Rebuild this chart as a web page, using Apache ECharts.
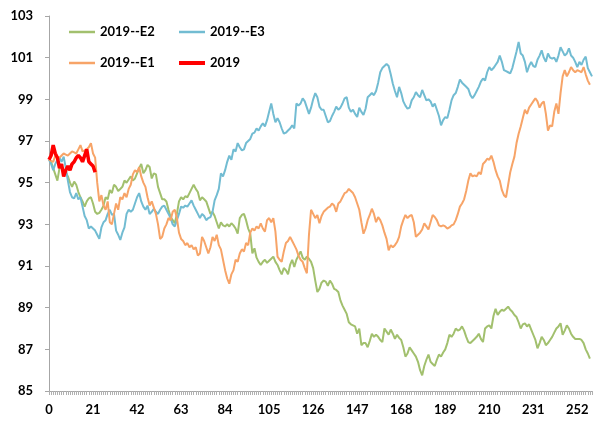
<!DOCTYPE html>
<html>
<head>
<meta charset="utf-8">
<script src="https://cdn.jsdelivr.net/npm/echarts@6/dist/echarts.min.js"></script>
<style>html,body{margin:0;padding:0;background:#fff}#c{width:600px;height:427px}</style>
</head>
<body>
<div id="c"></div>
<script>
// x categories: trading-day index 0..259
const categories = Array.from({length: 260}, (_, i) => String(i));
const seriesNames = ['2019--E2', '2019--E3', '2019--E1', '2019'];

const e2 = [96.1,96.0,95.7,95.4,95.1,95.7,95.8,95.6,95.5,95.3,95.0,94.8,95.05,94.9,94.55,94.3,94.1,93.85,94.1,94.25,
94.3,94.0,93.6,93.5,93.55,93.7,93.9,94.3,94.2,94.65,94.5,94.9,94.8,94.6,94.7,94.8,95.1,95.0,95.15,95.3,
95.1,95.2,95.45,95.7,95.9,95.45,95.6,95.85,95.75,95.2,95.45,95.4,94.8,94.5,94.2,94.2,94.1,93.7,93.35,93.2,
93.05,93.5,94.1,94.3,94.2,94.35,94.3,94.5,94.7,94.9,94.7,94.55,94.15,94.3,94.2,94.1,93.8,93.5,93.6,93.4,
93.1,92.8,93.1,92.95,92.9,93.0,92.9,93.05,92.95,92.8,92.55,93.3,93.45,93.5,93.2,92.8,92.55,91.6,91.85,91.4,
91.2,91.05,91.2,91.3,91.15,91.25,91.35,91.45,91.2,91.05,90.8,90.6,90.9,90.8,90.6,91.05,91.3,90.95,91.3,91.5,
91.7,91.4,91.3,91.45,91.35,91.2,90.9,90.3,89.75,89.9,90.2,90.3,90.25,90.05,90.3,90.15,89.9,89.85,89.75,89.35,
89.1,88.9,88.7,88.3,88.2,88.15,88.1,87.75,88.0,87.2,87.3,87.3,87.1,87.4,87.75,87.6,87.7,87.6,87.45,87.35,
88.0,87.85,87.7,87.95,87.75,87.5,87.7,87.55,87.45,87.1,86.65,86.8,87.1,86.95,86.8,86.65,86.4,86.0,85.75,86.2,
86.5,86.75,86.4,86.3,86.2,86.5,86.75,86.65,86.85,87.0,87.3,87.7,87.6,87.75,88.0,87.9,87.95,88.1,87.9,87.6,
87.35,87.3,87.4,87.5,87.6,87.75,87.5,87.35,88.0,88.1,88.15,88.0,88.6,88.95,88.65,88.8,88.9,88.85,88.95,89.05,
88.9,88.8,88.65,88.55,88.3,88.0,88.2,88.25,88.1,88.2,87.95,87.7,87.45,87.05,87.3,87.6,87.45,87.2,87.3,87.45,
87.6,87.8,88.0,88.1,88.25,87.7,87.9,88.15,88.0,87.75,87.6,87.5,87.5,87.5,87.45,87.3,87.0,86.8,86.55];

const e3 = [96.1,95.9,95.6,95.9,96.1,96.2,96.0,96.25,95.7,95.1,94.55,94.3,94.25,94.5,94.2,94.3,93.85,93.4,93.2,92.8,
92.9,92.8,92.7,92.5,92.3,92.85,93.1,93.2,93.5,93.7,93.45,93.5,92.7,92.5,92.25,92.6,92.85,93.5,93.7,93.6,
93.7,94.0,94.3,94.5,94.1,93.85,93.7,93.9,93.5,93.6,93.75,93.6,93.5,93.7,93.85,93.9,93.7,93.5,93.3,93.0,
92.9,93.2,93.5,93.85,93.8,93.9,93.85,94.0,94.15,93.9,93.7,93.5,93.3,93.5,93.4,93.2,93.3,93.35,93.6,94.15,
94.4,94.7,95.45,95.3,95.6,96.0,96.3,96.1,96.6,96.5,96.9,96.7,96.55,96.6,96.9,97.0,97.1,97.35,97.4,97.6,
97.5,97.7,97.85,97.7,98.0,98.4,98.8,98.3,97.9,98.1,97.9,97.6,97.35,97.4,97.5,97.6,97.75,97.6,98.8,98.7,
98.8,99.05,98.9,98.6,98.3,98.6,99.0,99.3,99.1,98.65,98.5,98.5,98.2,97.9,97.95,98.2,98.4,98.65,98.5,98.6,
98.8,99.05,99.1,98.6,98.4,98.5,98.3,98.15,98.6,98.4,98.25,98.55,99.1,99.2,99.3,99.2,99.4,99.8,100.3,100.5,
100.6,100.7,100.6,100.2,99.75,99.4,99.1,99.6,99.3,98.9,98.7,98.55,98.6,98.95,99.1,99.35,99.2,99.1,99.45,99.2,
98.95,99.0,98.9,98.65,98.8,98.5,98.2,97.75,98.0,98.15,98.1,98.5,98.95,99.2,99.3,99.6,99.95,99.8,99.7,99.6,
99.5,99.2,99.05,99.2,99.4,99.6,99.85,100.0,99.9,100.3,100.55,100.4,100.5,100.65,100.8,101.1,100.8,100.4,100.35,100.3,
100.25,100.5,100.9,101.3,101.75,101.2,101.1,100.8,100.3,100.6,100.8,100.6,100.55,100.9,101.1,101.35,101.0,100.8,101.2,101.0,
100.95,101.0,100.8,101.1,101.5,101.3,101.1,101.2,101.45,101.1,101.0,100.8,100.55,100.8,100.65,100.9,101.05,100.5,100.3,100.1];

const e1 = [96.1,96.05,96.0,96.3,96.25,96.2,96.3,96.4,96.35,96.3,96.4,96.5,96.45,96.4,96.6,96.8,96.5,96.55,96.6,96.7,
96.9,96.4,96.2,95.0,94.1,94.4,93.9,93.7,94.1,93.1,93.0,93.5,94.0,93.7,94.3,94.2,94.5,94.3,94.7,94.9,
95.4,95.6,95.5,95.75,95.3,95.0,94.8,94.3,93.9,94.1,93.8,93.5,93.0,92.3,92.4,92.8,93.0,93.3,93.2,93.6,
93.7,93.3,92.6,92.3,92.2,92.0,92.1,91.9,92.0,91.8,91.9,91.5,91.6,92.4,92.2,91.9,91.6,91.9,92.4,92.2,
92.5,92.0,91.8,91.3,90.8,90.4,90.15,90.6,90.8,91.3,91.2,91.6,91.8,91.7,92.1,92.0,92.6,92.8,92.7,92.9,
92.8,93.05,92.8,92.65,93.2,93.3,93.1,93.3,92.65,91.45,91.3,91.2,91.7,92.1,92.2,92.4,92.2,92.0,91.8,91.5,
91.3,91.2,90.9,90.65,92.5,93.7,93.5,93.3,93.45,93.05,93.4,93.6,93.7,93.8,93.85,94.0,93.9,93.6,94.0,94.1,
94.3,94.5,94.55,94.7,94.6,94.5,94.3,94.0,93.7,93.1,92.55,92.8,93.2,93.45,93.75,93.5,93.1,93.35,93.2,92.95,
92.6,92.3,91.75,92.0,91.9,92.0,92.15,92.4,92.9,93.2,93.45,93.3,93.4,93.45,93.1,92.4,92.5,92.6,92.75,93.05,
92.9,92.75,93.1,93.45,93.35,93.2,92.95,92.9,92.95,92.9,92.8,92.85,92.95,93.0,93.2,93.5,93.85,94.0,94.2,94.6,
95.1,95.45,95.3,95.35,95.3,95.5,95.4,95.9,96.0,96.15,96.1,96.3,96.0,95.6,95.3,95.1,94.65,94.4,94.3,94.9,
95.5,95.9,96.25,96.9,97.35,97.7,98.1,98.5,98.3,98.6,98.75,98.9,99.05,98.9,98.6,98.8,98.9,98.3,97.5,97.75,
97.7,98.4,98.8,98.3,99.3,100.1,100.4,100.1,100.3,100.55,100.4,100.3,100.4,100.35,100.3,100.55,100.2,99.9,99.7];

const y2019 = [96.1,96.3,96.8,96.4,96.2,95.7,95.9,95.3,95.6,95.8,95.6,95.9,96.0,96.2,96.3,96.2,96.0,96.3,96.6,96.0,
95.9,95.8,95.5];

const colors = {'2019--E2': '#A2C06E', '2019--E3': '#72BCD2', '2019--E1': '#F7A468', '2019': '#FF0000'};
const FONT = 'Lato';

const chart = echarts.init(document.getElementById('c'), null, {renderer: 'canvas'});
function mkSeries(name, data, width, z) {
  return {name, type: 'line', data, symbol: 'none', showSymbol: false, smooth: false, z,
    lineStyle: {color: colors[name], width}, itemStyle: {color: colors[name]}, animation: false};
}
function mkLegend(name, left, top, h) {
  return {data: [name], left, top, padding: 0, icon: 'rect', itemWidth: 26, itemHeight: h,
    itemStyle: {color: colors[name], borderWidth: 0},
    textStyle: {fontFamily: FONT, fontWeight: 'bold', fontSize: 13, color: '#000', lineHeight: 14}};
}
chart.setOption({
  animation: false,
  backgroundColor: '#fff',
  grid: {left: 49, right: 8, top: 16, bottom: 36, containLabel: false},
  legend: [
    mkLegend('2019--E2', 69, 25, 2.5),
    mkLegend('2019--E3', 179, 25, 2.5),
    mkLegend('2019--E1', 69, 56, 2.5),
    mkLegend('2019', 179, 56, 4)
  ],
  xAxis: {
    type: 'category', data: categories, boundaryGap: false,
    axisLine: {lineStyle: {color: '#A6A6A6', width: 1}},
    axisTick: {show: true, interval: 0, length: 4, lineStyle: {color: '#B0B0B0'}},
    axisLabel: {interval: 20, margin: 12, fontFamily: FONT, fontWeight: 'bold', fontSize: 13, color: '#000'},
    splitLine: {show: false}
  },
  yAxis: {
    type: 'value', min: 85, max: 103, interval: 2,
    axisLine: {show: true, lineStyle: {color: '#A6A6A6', width: 1}},
    axisTick: {show: true, length: 4, lineStyle: {color: '#A6A6A6'}},
    axisLabel: {margin: 16, fontFamily: FONT, fontWeight: 'bold', fontSize: 13, color: '#000'},
    splitLine: {show: false}
  },
  series: [
    mkSeries('2019--E2', e2, 2, 2),
    mkSeries('2019--E3', e3, 2, 3),
    mkSeries('2019--E1', e1, 2, 4),
    mkSeries('2019', y2019, 3.5, 5)
  ]
});
</script>
</body>
</html>
